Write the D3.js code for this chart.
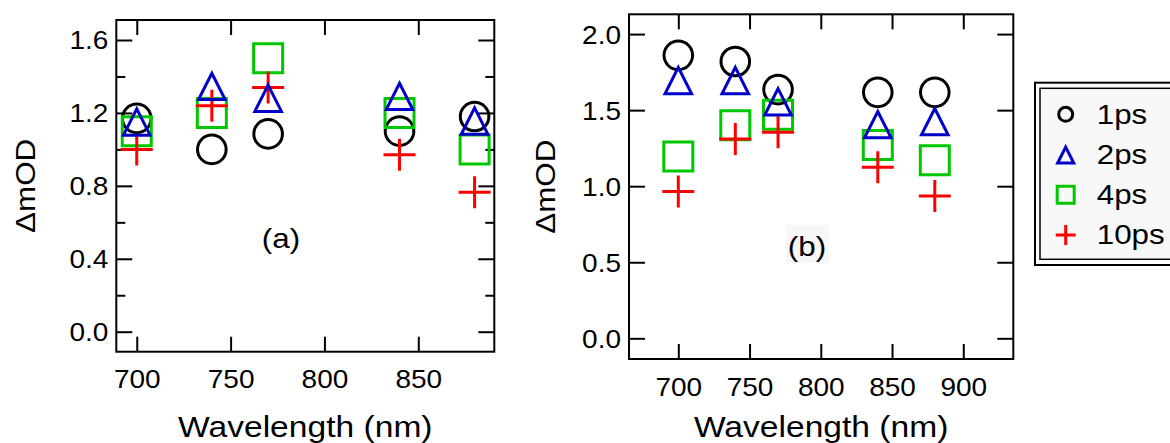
<!DOCTYPE html>
<html>
<head>
<meta charset="UTF-8">
<script src="https://d3js.org/d3.v7.min.js"></script>
<title>Transient absorption vs wavelength</title>
<style>
  body { margin: 0; background: #fff; }
  svg { display: block; font-family: "Liberation Sans", Arial, sans-serif; }
</style>
</head>
<body>
<script>
// wavelengths (nm) shared by both panels
const wavelengths = [700, 740, 770, 840, 880];

// legend / series
const seriesNames = ["1ps", "2ps", "4ps", "10ps"];
const seriesColors = ["#000000", "#0000c8", "#00c800", "#ff0000"];
const seriesMarkers = ["circle", "triangle", "square", "plus"];

// panel (a) values, dmOD
const a1ps = [1.17, 1.00, 1.085, 1.10, 1.18];
const a2ps = [1.155, 1.35, 1.285, 1.295, 1.16];
const a4ps = [1.10, 1.20, 1.50, 1.20, 1.00];
const a10ps = [1.00, 1.24, 1.34, 0.97, 0.765];

// panel (b) values, dmOD
const b1ps = [1.86, 1.82, 1.635, 1.617, 1.617];
const b2ps = [1.70, 1.70, 1.56, 1.41, 1.43];
const b4ps = [1.195, 1.40, 1.47, 1.27, 1.17];
const b10ps = [0.965, 1.31, 1.355, 1.125, 0.935];

// ticks
const aTicksX = [700, 750, 800, 850];
const aTicksY = [0.0, 0.4, 0.8, 1.2, 1.6];
const aMinorY = [0.2, 0.6, 1.0, 1.4];
const bTicksX = [700, 750, 800, 850, 900];
const bTicksY = [0.0, 0.5, 1.0, 1.5, 2.0];

const STRETCH = 1.12; // text in the figure is a bit wider than Arial

const svg = d3.select("body").append("svg")
  .attr("width", 1170)
  .attr("height", 443);

// open marker shapes, size = half extent
const markerTypes = {
  circle: { draw(ctx, s) { ctx.moveTo(s, 0); ctx.arc(0, 0, s, 0, 2 * Math.PI); } },
  triangle: { draw(ctx, s) {
    ctx.moveTo(0, -s * 0.88); ctx.lineTo(s * 0.95, s); ctx.lineTo(-s * 0.95, s); ctx.closePath();
  } },
  square: { draw(ctx, s) { ctx.rect(-s, -s, 2 * s, 2 * s); } },
  plus: { draw(ctx, s) { ctx.moveTo(-s, 0); ctx.lineTo(s, 0); ctx.moveTo(0, -s); ctx.lineTo(0, s); } }
};
const markerSize = { circle: 14.3, triangle: 14, square: 14.5, plus: 16 };
const legendSize = { circle: 7, triangle: 8.5, square: 8.5, plus: 10 };

function stretchedText(g, x, y, str, size, anchor, rotate) {
  return g.append("text")
    .attr("transform", "translate(" + x + "," + y + ")" + (rotate ? " rotate(" + rotate + ")" : "") + " scale(" + STRETCH + ",1)")
    .attr("text-anchor", anchor)
    .style("font-size", size + "px")
    .text(str);
}

function drawPanel(opt) {
  const x = d3.scaleLinear().domain(opt.xDomain).range(opt.xRange);
  const y = d3.scaleLinear().domain(opt.yDomain).range(opt.yRange);
  const left = opt.xRange[0], right = opt.xRange[1];
  const top = opt.yRange[1], bottom = opt.yRange[0];
  const g = svg.append("g");

  // label box behind "(b)"
  if (opt.labelBox) {
    g.append("rect")
      .attr("x", opt.labelX - 21).attr("y", opt.labelY - 31)
      .attr("width", 43).attr("height", 38)
      .attr("fill", "#f7f7f7");
  }

  // axes (ticks point inward)
  const yLeft = g.append("g").attr("transform", "translate(" + left + ",0)")
    .call(d3.axisLeft(y).tickValues(opt.yTicks).tickSizeInner(-16).tickSizeOuter(0)
      .tickPadding(0).tickFormat(d3.format(".1f")));
  yLeft.selectAll("text")
    .attr("x", null).attr("dy", null)
    .attr("transform", "translate(-8,9) scale(" + STRETCH + ",1)")
    .style("font-size", "25px").attr("fill", "#000");

  g.append("g").attr("transform", "translate(" + right + ",0)")
    .call(d3.axisRight(y).tickValues(opt.yTicks).tickSizeInner(-16).tickSizeOuter(0).tickFormat(""));

  if (opt.yMinor) {
    g.append("g").attr("transform", "translate(" + left + ",0)")
      .call(d3.axisLeft(y).tickValues(opt.yMinor).tickSizeInner(-9).tickSizeOuter(0).tickFormat(""));
    g.append("g").attr("transform", "translate(" + right + ",0)")
      .call(d3.axisRight(y).tickValues(opt.yMinor).tickSizeInner(-9).tickSizeOuter(0).tickFormat(""));
  }

  const xBottom = g.append("g").attr("transform", "translate(0," + bottom + ")")
    .call(d3.axisBottom(x).tickValues(opt.xTicks).tickSizeInner(-15).tickSizeOuter(0)
      .tickPadding(0).tickFormat(d3.format("d")));
  xBottom.selectAll("text")
    .attr("y", null).attr("dy", null)
    .attr("transform", "translate(0,36.6) scale(" + STRETCH + ",1)")
    .style("font-size", "25px").attr("fill", "#000");

  g.append("g").attr("transform", "translate(0," + top + ")")
    .call(d3.axisTop(x).tickValues(opt.xTicks).tickSizeInner(-15).tickSizeOuter(0).tickFormat(""));

  g.selectAll(".domain").remove();
  g.selectAll(".tick line").attr("stroke", "#000").attr("stroke-width", 2);

  // frame
  g.append("rect")
    .attr("x", left).attr("y", top)
    .attr("width", right - left).attr("height", bottom - top)
    .attr("fill", "none").attr("stroke", "#000").attr("stroke-width", 2);

  // markers: circle, square, plus, then triangle on top
  const order = [0, 2, 3, 1];
  order.forEach(i => {
    const type = seriesMarkers[i];
    const sym = d3.symbol(markerTypes[type], markerSize[type]);
    g.append("g").selectAll("path")
      .data(wavelengths.map((w, j) => ({ w: w, v: opt.series[i][j] })))
      .join("path")
      .attr("transform", d => "translate(" + x(d.w) + "," + y(d.v) + ")")
      .attr("d", sym)
      .attr("fill", "none")
      .attr("stroke", seriesColors[i])
      .attr("stroke-width", 3)
      .attr("stroke-linejoin", "miter");
  });

  // axis titles and panel label
  stretchedText(g, opt.yTitleX, (top + bottom) / 2, "\u0394mOD", 28, "middle", -90);
  stretchedText(g, (left + right) / 2, 437, "Wavelength (nm)", 30, "middle");
  stretchedText(g, opt.labelX, opt.labelY, opt.label, 28, "middle");
}

drawPanel({
  xDomain: [689.1, 890.5], xRange: [116.3, 494.3],
  yDomain: [-0.1097, 1.7097], yRange: [351.7, 20],
  xTicks: aTicksX, yTicks: aTicksY, yMinor: aMinorY,
  series: [a1ps, a2ps, a4ps, a10ps],
  yTitleX: 35, label: "(a)", labelX: 281, labelY: 248
});

drawPanel({
  xDomain: [665.4, 935.1], xRange: [629, 1013.3],
  yDomain: [-0.136, 2.13], yRange: [359, 14.3],
  xTicks: bTicksX, yTicks: bTicksY, yMinor: null,
  series: [b1ps, b2ps, b4ps, b10ps],
  yTitleX: 555, label: "(b)", labelX: 807, labelY: 256, labelBox: true
});

// legend with double border
const legend = svg.append("g");
legend.append("rect")
  .attr("x", 1035).attr("y", 82.7).attr("width", 200).attr("height", 182.3)
  .attr("fill", "#fff").attr("stroke", "#000").attr("stroke-width", 2);
legend.append("rect")
  .attr("x", 1040).attr("y", 88.3).attr("width", 200).attr("height", 171)
  .attr("fill", "#f8f8f8").attr("stroke", "#000").attr("stroke-width", 1.5);

const legendY = d3.scalePoint().domain(seriesNames).range([114.3, 235]);
seriesNames.forEach((name, i) => {
  const type = seriesMarkers[i];
  legend.append("path")
    .attr("transform", "translate(1065.7," + legendY(name) + ")")
    .attr("d", d3.symbol(markerTypes[type], legendSize[type]))
    .attr("fill", "none")
    .attr("stroke", seriesColors[i])
    .attr("stroke-width", 3);
  stretchedText(legend, 1096.7, legendY(name) + 9.3, name, 28, "start");
});
</script>
</body>
</html>
